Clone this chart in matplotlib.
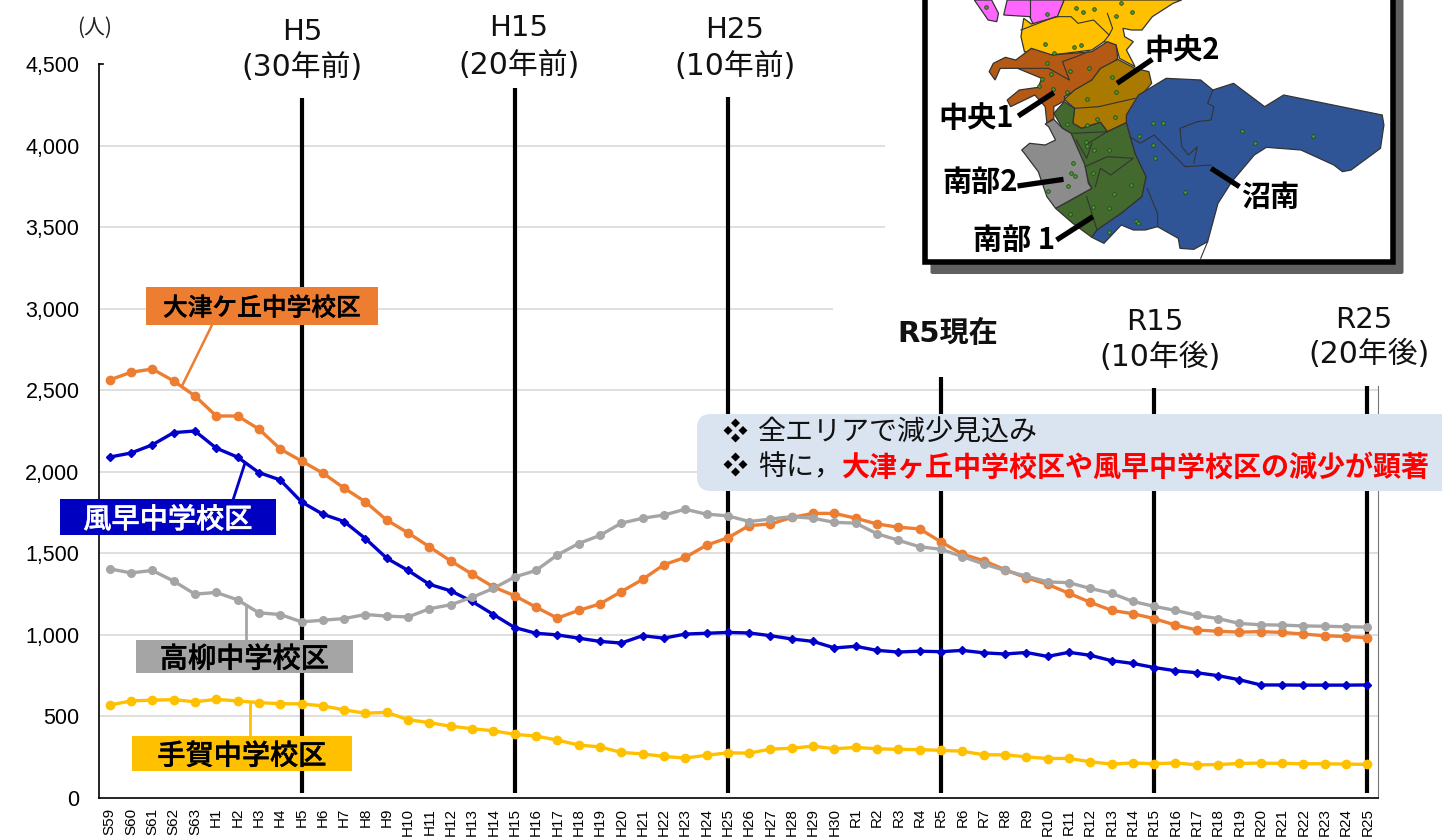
import numpy as np
import matplotlib
matplotlib.use('Agg')
import matplotlib.pyplot as plt
from matplotlib import patches
from matplotlib import patheffects

## school district population, past and projected

showa = ['S59', 'S60', 'S61', 'S62', 'S63']
heisei = ['H%d' % i for i in range(1, 31)]
reiwa = ['R%d' % i for i in range(1, 26)]
years = showa + heisei + reiwa

otsugaoka = [2563, 2610, 2630, 2557, 2465, 2342, 2342, 2262, 2140, 2066,
             1992, 1900, 1815, 1704, 1625, 1540, 1453, 1373, 1294, 1240,
             1170, 1103, 1150, 1190, 1265, 1340, 1430, 1475, 1550, 1595,
             1670, 1680, 1720, 1745, 1745, 1715, 1680, 1660, 1650, 1570,
             1495, 1455, 1400, 1350, 1310, 1255, 1200, 1150, 1130, 1100,
             1060, 1030, 1022, 1017, 1020, 1015, 1005, 995, 990, 983]
kazehaya = [2090, 2115, 2165, 2240, 2250, 2145, 2090, 1995, 1950, 1815,
            1740, 1695, 1590, 1470, 1395, 1310, 1270, 1205, 1125, 1045,
            1010, 1000, 980, 960, 950, 995, 980, 1005, 1010, 1015,
            1012, 995, 975, 960, 920, 930, 905, 895, 900, 897,
            905, 890, 883, 892, 868, 893, 875, 842, 825, 800,
            780, 768, 750, 725, 693, 693, 692, 692, 692, 693]
takayanagi = [1405, 1380, 1395, 1330, 1250, 1260, 1215, 1135, 1125, 1080,
              1090, 1100, 1125, 1115, 1110, 1160, 1185, 1230, 1285, 1355,
              1395, 1490, 1560, 1610, 1685, 1715, 1735, 1770, 1740, 1730,
              1695, 1710, 1725, 1715, 1690, 1685, 1620, 1580, 1540, 1525,
              1480, 1435, 1395, 1360, 1325, 1320, 1285, 1255, 1205, 1175,
              1150, 1120, 1100, 1070, 1062, 1060, 1055, 1053, 1050, 1048]
tega = [570, 595, 600, 603, 590, 605, 595, 585, 578, 577,
        565, 540, 520, 525, 480, 462, 440, 425, 412, 390,
        380, 355, 325, 313, 280, 270, 255, 245, 262, 277,
        275, 300, 305, 318, 302, 310, 302, 298, 297, 292,
        287, 265, 265, 252, 242, 243, 222, 208, 215, 210,
        215, 203, 205, 212, 214, 212, 210, 210, 208, 206]

yticks = [0, 500, 1000, 1500, 2000, 2500, 3000, 3500, 4000, 4500]
# (level, last category index reached by the grid line)
grid_ends = [(500, 59.5), (1000, 59.5), (1500, 59.5), (2000, 59.5), (2500, 59.5),
             (3000, 33.94), (3500, 36.38), (4000, 36.38)]
# (year, top of the marker line)
year_marks = [('H5', 4292), ('H15', 4353), ('H25', 4298),
              ('R5', 2581), ('R15', 2514), ('R25', 2526)]

W, H = 1442, 838
JP = ['Noto Sans CJK JP', 'DejaVu Sans']
LATIN_JP = ['DejaVu Sans', 'Noto Sans CJK JP']

fig = plt.figure(figsize=(W/100., H/100.), dpi=100, facecolor='white')
ax = fig.add_axes([99./W, 1-798./H, 1279./W, 734./H])
x = np.arange(len(years))

for level, xend in grid_ends:
    ax.hlines(level, -0.5, xend, color='#dcdcdc', lw=1.3, zorder=1)
for name, top in year_marks:
    ax.vlines(years.index(name), 30, top, color='black', lw=3, zorder=2)

ax.plot(x, otsugaoka, '-o', color='#ed7d31', lw=2.4, ms=6, zorder=3)
ax.plot(x, kazehaya, '-D', color='#0000c8', lw=2.4, ms=3.8, zorder=4)
ax.plot(x, takayanagi, '-o', color='#a5a5a5', lw=2.4, ms=5.5, zorder=5)
ax.plot(x, tega, '-o', color='#ffc000', lw=2.4, ms=6, zorder=6)

ax.set_xlim(-0.5, 59.5)
ax.set_ylim(0, 4500)
ax.spines['top'].set_visible(False)
ax.spines['right'].set_bounds(0, 2526)
ax.spines['right'].set_color('#777777')
ax.spines['left'].set_linewidth(1.2)
ax.spines['bottom'].set_linewidth(1.2)
ax.set_xticks(x)
ax.set_xticklabels(years, rotation=90, fontsize=11, family='Liberation Sans',
                   ha='center', va='top')
ax.set_yticks(yticks)
ax.set_yticklabels(['{:,}'.format(v) for v in yticks], fontsize=15.5,
                   family='Liberation Sans')
ax.tick_params(axis='x', length=0, pad=7)
ax.tick_params(axis='y', length=0, pad=14)
ax.plot([0, 0.003], [4500, 4500], color='black', lw=1.2, clip_on=False,
        transform=ax.get_yaxis_transform())

# everything else sits on a pixel-scaled overlay
ov = fig.add_axes([0, 0, 1, 1], zorder=5)
ov.set_xlim(0, W)
ov.set_ylim(H, 0)
ov.axis('off')
ov.patch.set_alpha(0)


def txt(px, py, s, size, family=JP, stroke=0, **kw):
    kw.setdefault('ha', 'center')
    kw.setdefault('va', 'center')
    t = ov.text(px, py+2.5, s, fontsize=size, family=family, **kw)
    if stroke:
        t.set_path_effects([patheffects.withStroke(linewidth=stroke, foreground=kw['color'])])
    return t


txt(95, 25, '(人)', 15, color='#222222')
for px1, px2, py1, py2, top, bot in [(302, 302, 29, 65, 'H5', '(30年前)'),
                                     (519, 519, 25, 63, 'H15', '(20年前)'),
                                     (735, 735, 28, 64, 'H25', '(10年前)'),
                                     (1155, 1160, 319, 355, 'R15', '(10年後)'),
                                     (1364, 1369, 317, 352, 'R25', '(20年後)')]:
    txt(px1, py1, top, 21, family=LATIN_JP, color='#111111')
    txt(px2, py2, bot, 21.5, family=LATIN_JP, color='#111111')
txt(948, 331, 'R5現在', 21, family=LATIN_JP, weight='bold', color='#111111')

# district name boxes and their leader lines
ov.plot([212, 182], [325, 386], color='#ed7d31', lw=1.8)
ov.plot([245, 233], [463, 500], color='#0000c8', lw=2)
ov.plot([246, 246], [605, 640], color='#a5a5a5', lw=2)
ov.plot([250, 250], [703, 736], color='#ffc000', lw=2)
for bx, by, bw, bh, col, label, tcol, tsize in [
        (146, 287, 232, 38, '#ed7d31', '大津ケ丘中学校区', 'black', 17.8),
        (60, 499, 216, 36, '#0000c0', '風早中学校区', 'white', 20.3),
        (136, 640, 217, 33, '#a5a5a5', '高柳中学校区', 'black', 20.3),
        (132, 736, 220, 35, '#ffc000', '手賀中学校区', 'black', 20.3)]:
    ov.add_patch(patches.Rectangle((bx, by), bw, bh, fc=col, ec='none'))
    txt(bx+bw/2., by+bh/2., label, tsize, color=tcol, weight='medium', stroke=0.3)

# summary callout
ov.add_patch(patches.FancyBboxPatch((697, 414), 800, 77,
                                    boxstyle='round,pad=0,rounding_size=14',
                                    fc='#dae3f0', ec='none'))
txt(735, 430, '❖', 18, color='black')
txt(735, 464, '❖', 18, color='black')
txt(758, 430, '全エリアで減少見込み', 20.2, ha='left', color='#111111')
txt(758, 465, '特に，', 20.2, ha='left', color='#111111')
txt(842, 465, '大津ヶ丘中学校区や風早中学校区の減少が顕著', 20.2, ha='left',
    color='#ff0000', weight='bold')


## area map, outlines are in map units (x*2.893 and y*3 from the corner at 900,0)

def m(pts):
    a = np.array(pts, dtype=float)
    return np.column_stack((900+a[:, 0]/2.893, a[:, 1]/3.))


ov.add_patch(patches.FancyBboxPatch((930.5, -10), 473, 284,
                                    boxstyle='round,pad=0,rounding_size=2',
                                    fc='#606060', ec='none'))
ov.add_patch(patches.Rectangle((924.5, -10), 468, 272, fc='white', ec='black', lw=4))

magenta1 = [(215, 0), (235, 30), (255, 60), (280, 65), (285, 40), (265, 0)]
magenta2 = [(310, 0), (300, 45), (375, 50), (385, 72), (450, 68), (475, 0)]
magenta3 = [(545, 0), (570, 15), (590, 0)]
yellow = [(475, 0), (455, 50), (380, 72), (358, 55), (350, 110), (360, 155), (440, 165),
          (555, 150), (590, 125), (625, 135), (635, 175), (680, 200), (655, 150),
          (675, 125), (650, 110), (645, 85), (670, 90), (700, 90), (730, 50), (790, 10),
          (815, 0)]
brown = [(258, 215), (275, 240), (290, 205), (340, 205), (410, 235), (400, 262), (345, 270),
         (310, 300), (320, 320), (390, 285), (420, 320), (425, 370), (445, 355), (445, 320),
         (480, 300), (475, 290), (540, 255), (630, 175), (625, 135), (600, 125), (555, 155),
         (440, 165), (380, 145), (335, 180), (305, 172), (270, 190)]
gold = [(475, 298), (505, 270), (555, 240), (580, 205), (630, 178), (680, 205), (720, 215),
        (728, 250), (695, 290), (680, 325), (660, 340), (655, 368), (600, 395), (580, 367),
        (525, 385), (500, 370), (505, 325)]
green = [(445, 340), (475, 305), (505, 325), (500, 370), (525, 385), (580, 367), (600, 395),
         (655, 368), (680, 460), (712, 530), (700, 590), (640, 640), (570, 690), (555, 712),
         (500, 670), (450, 625), (555, 565), (545, 545), (535, 500), (495, 400), (470, 385)]
grey = [(420, 372), (445, 358), (470, 385), (495, 400), (535, 495), (545, 550), (555, 565),
        (450, 625), (425, 590), (400, 515), (360, 460), (352, 450), (375, 430), (420, 435),
        (450, 420), (430, 380)]
blue = [(555, 712), (590, 730), (640, 675), (675, 690), (710, 690), (745, 680), (805, 715),
        (810, 745), (850, 748), (890, 725), (920, 610), (960, 545), (1025, 465), (1060, 442),
        (1160, 450), (1255, 495), (1280, 515), (1305, 510), (1390, 445), (1400, 375),
        (1395, 345), (1110, 285), (1055, 320), (965, 250), (905, 270), (870, 240), (770, 235),
        (690, 285), (655, 345), (655, 368), (680, 460), (712, 530), (700, 590), (640, 640),
        (570, 690)]
for poly, col in [(magenta1, '#ff66ff'), (magenta2, '#ff66ff'), (magenta3, '#ff66ff'),
                  (yellow, '#ffc000'), (brown, '#b45a14'), (gold, '#aa7900'),
                  (green, '#44692e'), (grey, '#8c8c8c'), (blue, '#2f5597')]:
    ov.add_patch(patches.Polygon(m(poly), closed=True, fc=col, ec='#333333', lw=0.9))

boundaries = [
    [(350, 90), (450, 50), (495, 50), (515, 70), (560, 60), (605, 105), (590, 125)],
    [(600, 40), (615, 85), (605, 105)],
    [(375, 0), (375, 50)],
    [(340, 205), (430, 205), (490, 240), (470, 185), (510, 170), (545, 155)],
    [(505, 325), (575, 320), (680, 295)],
    [(500, 400), (600, 395)],
    [(545, 430), (600, 395)],
    [(510, 420), (540, 475), (555, 430)],
    [(535, 500), (600, 470), (675, 475), (610, 525), (580, 505), (565, 560)],
    [(570, 690), (540, 590)],
    [(665, 410), (695, 430), (735, 405), (825, 500), (900, 495)],
    [(715, 565), (745, 640), (745, 680)],
    [(905, 270), (890, 310), (908, 320), (900, 360), (860, 365), (810, 385), (815, 440),
     (835, 465), (860, 440), (850, 490)],
    [(890, 725), (870, 775)],
]
for line in boundaries:
    xy = m(line)
    ov.plot(xy[:, 0], xy[:, 1], color='#333333', lw=0.8)

# schools
school_dots = [(248, 22), (425, 42), (510, 25), (530, 35), (560, 27), (625, 48), (640, 8),
               (670, 35), (420, 132), (503, 140), (523, 135), (445, 160), (425, 188),
               (437, 223), (412, 238), (403, 258), (491, 213), (546, 203), (612, 230),
               (625, 275), (540, 296), (570, 356), (622, 350), (541, 375), (484, 373),
               (443, 268), (484, 277), (538, 425), (540, 438), (561, 450), (605, 449),
               (500, 488), (495, 520), (505, 527), (487, 558), (427, 574), (557, 520),
               (668, 555), (619, 582), (604, 623), (558, 622), (493, 643), (606, 695),
               (684, 664), (688, 669), (733, 370), (761, 370), (691, 407), (733, 435),
               (738, 474), (990, 394), (1026, 429), (1195, 408), (824, 575)]
xy = m(school_dots)
ov.plot(xy[:, 0], xy[:, 1], 'o', ms=2.6, mfc='#4f9a3c', mec='#1d4d12', mew=0.6, ls='none')

# area labels
for seg in [[(730, 178), (628, 250)], [(445, 278), (342, 348)], [(473, 538), (340, 558)],
            [(558, 650), (453, 720)], [(900, 505), (982, 560)]]:
    xy = m(seg)
    ov.plot(xy[:, 0], xy[:, 1], color='black', lw=3.8, solid_capstyle='butt')
for px, py, label in [(1182, 48, '中央2'), (976, 115, '中央1'), (980, 180, '南部2'),
                      (1014, 237, '南部 1'), (1270, 194, '沼南')]:
    txt(px, py, label, 21, weight='bold', color='black')

fig.savefig('out.png', dpi=100)
